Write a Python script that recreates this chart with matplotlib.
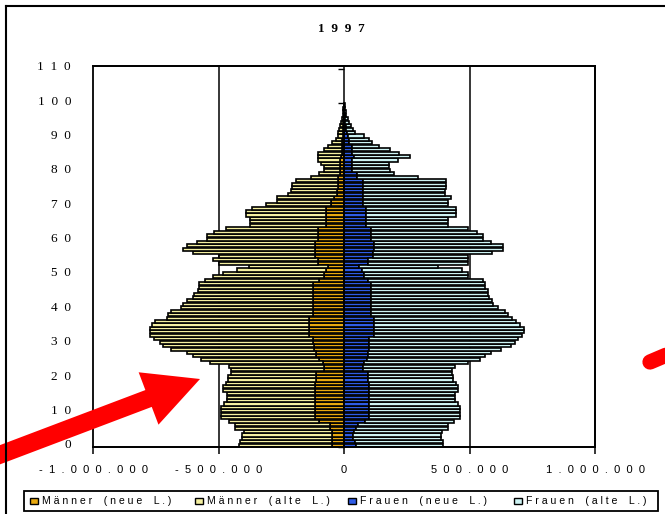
import numpy as np
import matplotlib
matplotlib.use('Agg')
import matplotlib.pyplot as plt
from matplotlib import transforms
from matplotlib.patches import Rectangle, Polygon
from matplotlib.lines import Line2D

# ---------------- data (thousands of persons, ages 0..99) ----------------
ages = list(range(100))

maenner_gesamt = [417, 415, 405, 405, 400, 436, 436, 460, 492, 492,
                  492, 492, 480, 468, 468, 468, 481, 481, 470, 464,
                  464, 450, 449, 460, 532, 570, 600, 625, 690, 720,
                  735, 756, 772, 772, 772, 765, 752, 705, 700, 689,
                  649, 640, 625, 600, 599, 583, 576, 576, 552, 521,
                  481, 425, 380, 500, 521, 500, 601, 641, 625, 585,
                  545, 545, 516, 472, 376, 376, 376, 392, 392, 365,
                  312, 265, 265, 225, 212, 209, 209, 192, 132, 100,
                  81, 81, 92, 105, 105, 105, 80, 65, 49, 32,
                  25, 22, 20, 14, 10, 7, 5, 3, 2, 1]

maenner_neue = [49, 49, 49, 49, 49, 55, 55, 100, 116, 116,
                116, 116, 116, 116, 116, 116, 116, 116, 116, 112,
                112, 112, 81, 81, 85, 100, 112, 112, 120, 120,
                125, 125, 140, 140, 140, 140, 140, 140, 125, 125,
                125, 125, 125, 125, 125, 125, 125, 125, 100, 79,
                79, 70, 65, 105, 105, 116, 116, 116, 116, 116,
                105, 105, 105, 105, 72, 72, 72, 72, 72, 72,
                52, 52, 40, 29, 29, 25, 25, 25, 25, 15,
                15, 15, 15, 15, 12, 8, 8, 8, 8, 8,
                4, 4, 3, 2, 2, 1, 1, 0.5, 0.3, 0.2]

frauen_neue = [47, 43, 37, 36, 38, 48, 55, 85, 101, 101,
               101, 101, 101, 101, 101, 101, 101, 101, 98, 95,
               95, 95, 77, 77, 80, 90, 95, 95, 101, 101,
               101, 101, 121, 121, 121, 121, 121, 121, 108, 108,
               108, 108, 108, 108, 108, 108, 108, 108, 95, 81,
               81, 70, 61, 95, 95, 117, 117, 121, 121, 121,
               108, 108, 108, 108, 88, 88, 88, 88, 88, 88,
               77, 77, 77, 77, 77, 77, 77, 77, 51, 51,
               32, 32, 32, 32, 40, 32, 32, 32, 21, 21,
               15, 10, 8, 6, 4, 3, 2, 1, 0.5, 0.3]

frauen_gesamt = [395, 395, 388, 388, 390, 415, 415, 440, 464, 464,
                 464, 464, 455, 441, 441, 441, 455, 455, 445, 435,
                 435, 432, 432, 441, 495, 540, 561, 584, 624, 664,
                 681, 695, 710, 717, 717, 701, 685, 668, 655, 641,
                 615, 595, 590, 578, 575, 575, 561, 561, 555, 495,
                 495, 472, 375, 495, 495, 495, 588, 635, 635, 584,
                 555, 555, 528, 495, 415, 415, 415, 445, 445, 445,
                 415, 415, 428, 401, 401, 408, 408, 408, 295, 200,
                 184, 179, 179, 215, 264, 221, 184, 141, 112, 100,
                 81, 45, 35, 28, 21, 14, 8, 6, 4, 2]

series_labels = ["Männer (neue L.)", "Männer (alte L.)",
                 "Frauen (neue L.)", "Frauen (alte L.)"]
x_ticks = [-1000000, -500000, 0, 500000, 1000000]
x_tick_labels = ["-1.000.000", "-500.000", "0", "500.000", "1.000.000"]
y_ticks = list(range(0, 111, 10))
title = "1997"

# ---------------- styling ----------------
C_MN = '#E8A90F'
C_MA = '#F4EFA0'
C_FN = '#2F5CE6'
C_FA = '#CDF3F3'
colors = [C_MN, C_MA, C_FN, C_FA]

W, H = 665, 514
fig = plt.figure(figsize=(W / 100, H / 100), dpi=100)


def fx(x):
    return x / W


def fy(y):
    return 1 - y / H


def spaced(s, gap=2, wgap=4):
    out = []
    for ch in s:
        if ch == ' ':
            out.append(' ' * max(wgap - 2 * gap, 1))
        else:
            out.append(ch)
    return (' ' * gap).join(out)


L, R, T, B = 93, 595, 65.5, 447
ax = fig.add_axes([fx(L), fy(B), (R - L) / W, (B - T) / H])

y = np.array(ages) + 0.5
mg = np.array(maenner_gesamt) * 1000.0
mn = np.array(maenner_neue) * 1000.0
fg = np.array(frauen_gesamt) * 1000.0
fn = np.array(frauen_neue) * 1000.0

bh = 0.9
lw = 1.2
ax.barh(y, -mn, height=bh, color=C_MN, edgecolor='black', linewidth=lw, zorder=3)
ax.barh(y, -(mg - mn), left=-mn, height=bh, color=C_MA, edgecolor='black', linewidth=lw, zorder=3)
ax.barh(y, fn, height=bh, color=C_FN, edgecolor='black', linewidth=lw, zorder=3)
ax.barh(y, fg - fn, left=fn, height=bh, color=C_FA, edgecolor='black', linewidth=lw, zorder=3)

ax.set_xlim(-1000000, 1000000)
ax.set_ylim(0, 111)

for xv in (-500000, 500000):
    ax.axvline(xv, color='black', lw=1.1, zorder=1)

# y axis at zero
for s in ('top', 'right', 'bottom'):
    ax.spines[s].set_linewidth(1.3)
ax.spines['left'].set_position(('data', 0))
ax.spines['left'].set_linewidth(1.1)
ax.spines['left'].set_zorder(4)
ax.add_patch(Rectangle((0, 0), 1, 1, transform=ax.transAxes, fill=False,
                       lw=1.3, edgecolor='black', zorder=5, clip_on=False))

ax.set_yticks(y_ticks)
ax.tick_params(axis='y', direction='out', length=4, width=1.0, labelleft=False)
ax.set_xticks(x_ticks)
ax.set_xticklabels([spaced(t) for t in x_tick_labels],
                   fontfamily='Liberation Sans', fontsize=8)
ax.tick_params(axis='x', direction='out', length=5, width=1.1, pad=8)

trans = transforms.blended_transform_factory(fig.transFigure, ax.transData)
for v in y_ticks:
    ax.text(fx(71), v + 0.5, spaced(str(v)), transform=trans, ha='right',
            va='center', fontfamily='Liberation Serif', fontsize=9.5)

fig.text(fx(341), fy(29), spaced(title), ha='center', va='center',
         fontfamily='Liberation Serif', fontweight='bold', fontsize=9.5)

# outer chart frame
fig.add_artist(Line2D([fx(6), fx(6)], [fy(6), fy(520)], color='black', lw=1.5,
                      transform=fig.transFigure))
fig.add_artist(Line2D([fx(6), fx(670)], [fy(6), fy(6)], color='black', lw=1.5,
                      transform=fig.transFigure))

# legend
fig.add_artist(Rectangle((fx(24), fy(511)), (658 - 24) / W, 20 / H, fill=False,
                         edgecolor='black', lw=1.3, transform=fig.transFigure))
leg_x = [30, 195, 348, 514]
for xm, lab, col in zip(leg_x, series_labels, colors):
    fig.add_artist(Rectangle((fx(xm), fy(504)), 8 / W, 6 / H, facecolor=col,
                             edgecolor='black', lw=1.0, transform=fig.transFigure))
    fig.text(fx(xm + 12), fy(501), spaced(lab, gap=1, wgap=4), ha='left', va='center',
             fontfamily='Liberation Sans', fontsize=7.6)

# red arrows
T1 = np.array([200.0, 379.0])
u = np.array([51.5, -19.5])
u = u / np.linalg.norm(u)
n = np.array([-u[1], u[0]])
Bc = T1 - 55 * u
tail = Bc - 190 * u
hw, sw = 28, 9
pts = [T1, Bc + hw * n, Bc + sw * n, tail + sw * n, tail - sw * n, Bc - sw * n, Bc - hw * n]
fig.add_artist(Polygon([(fx(p[0]), fy(p[1])) for p in pts], closed=True,
                       facecolor='#FF0000', edgecolor='none', transform=fig.transFigure))
fig.add_artist(Line2D([fx(650), fx(690)], [fy(362), fy(345)], color='#FF0000', lw=11,
                      solid_capstyle='round', transform=fig.transFigure))

fig.savefig('out.png', dpi=100)
